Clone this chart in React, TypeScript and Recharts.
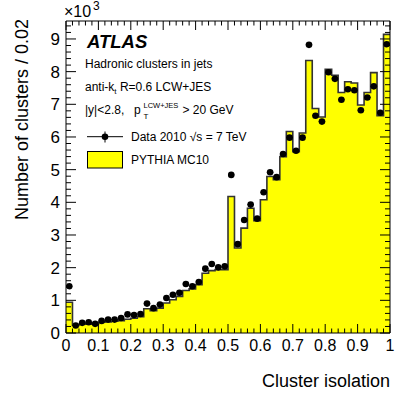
import {
    ComposedChart,
    Area,
    Scatter,
    ErrorBar,
    XAxis,
    YAxis,
} from 'recharts';

// bins of 0.02 in cluster isolation, values in units of 10^3 clusters
const binWidth = 0.02;
const dataValues = [
    1.43, 0.23, 0.31, 0.33, 0.28, 0.37, 0.41, 0.41, 0.46, 0.57,
    0.55, 0.58, 0.90, 0.76, 0.87, 1.07, 1.17, 1.23, 1.50, 1.43,
    1.56, 1.97, 2.11, 2.01, 2.04, 4.84, 2.72, 3.46, 3.93, 3.50,
    4.31, 4.92, 4.77, 5.48, 5.98, 5.58, 5.98, 8.82, 6.65, 6.47,
    7.98, 7.78, 7.14, 7.46, 7.43, 6.82, 7.21, 7.55, 6.74, 8.84,
];
const mcValues = [
    0.94, 0.23, 0.27, 0.28, 0.27, 0.33, 0.34, 0.36, 0.38, 0.42,
    0.45, 0.50, 0.74, 0.68, 0.76, 0.92, 1.02, 1.12, 1.30, 1.35,
    1.48, 1.83, 1.91, 1.94, 1.94, 4.18, 2.60, 3.21, 3.82, 3.44,
    4.08, 4.79, 4.69, 5.40, 6.17, 5.55, 6.12, 8.34, 6.87, 6.61,
    8.07, 7.89, 7.36, 7.69, 7.65, 6.98, 7.36, 7.97, 6.65, 9.14,
];

const xTicks = [0, 0.1, 0.2, 0.3, 0.4, 0.5, 0.6, 0.7, 0.8, 0.9, 1];
const yTicks = [0, 1, 2, 3, 4, 5, 6, 7, 8, 9];
// every tick (major + minor): 0.02 steps in x, 0.2 steps in y
const xAllTicks = Array.from({ length: 51 }, (_, i) => Math.round(i * 2) / 100);
const yAllTicks = Array.from({ length: 48 }, (_, i) => Math.round(i * 2) / 10);

// step histogram: one point at each bin edge (stepAfter), plus the closing edge
const mcSteps = [
    ...mcValues.map((v, i) => ({ x: i * binWidth, y: v })),
    { x: 1, y: mcValues[mcValues.length - 1] },
];
const dataPoints = dataValues.map((v, i) => ({ x: (i + 0.5) * binWidth, y: v, ex: binWidth / 2 }));

const FONT = '"Liberation Sans", Arial, Helvetica, sans-serif';
const W = 411;
const H = 397;
const Y_MAX = 9.55;

const isMajorX = (v: number) => xTicks.some((t) => Math.abs(t - v) < 1e-6);
const isMajorY = (v: number) => yTicks.some((t) => Math.abs(t - v) < 1e-6);

// ROOT style ticks: drawn inwards from the frame, labels only on major ticks
function BottomTick({ x, y, payload }: any) {
    const major = isMajorX(payload.value);
    return (
        <g>
            <line x1={x} x2={x} y1={y} y2={y - (major ? 9 : 4.5)} stroke="#000" />
            {major && (
                <text x={x} y={y + 18} textAnchor="middle" fontSize={16} fontFamily={FONT} fill="#000">
                    {String(payload.value)}
                </text>
            )}
        </g>
    );
}

function TopTick({ x, y, payload }: any) {
    const major = isMajorX(payload.value);
    return <line x1={x} x2={x} y1={y} y2={y + (major ? 9 : 4.5)} stroke="#000" />;
}

function LeftTick({ x, y, payload }: any) {
    const major = isMajorY(payload.value);
    return (
        <g>
            <line x1={x} x2={x + (major ? 10 : 5)} y1={y} y2={y} stroke="#000" />
            {major && (
                <text x={x - 6} y={y + 6} textAnchor="end" fontSize={17} fontFamily={FONT} fill="#000">
                    {String(payload.value)}
                </text>
            )}
        </g>
    );
}

function RightTick({ x, y, payload }: any) {
    const major = isMajorY(payload.value);
    return <line x1={x} x2={x - (major ? 10 : 5)} y1={y} y2={y} stroke="#000" />;
}

export default function App() {
    return (
        <div style={{ position: 'absolute', left: 0, top: 0, width: W, height: H, background: '#fff' }}>
            <ComposedChart
                width={W}
                height={H}
                data={mcSteps}
                margin={{ top: 20, right: 20, left: 36, bottom: 34 }}
            >
                <Area
                    type="stepAfter"
                    dataKey="y"
                    stroke="#333"
                    strokeWidth={1.6}
                    fill="#ffff00"
                    fillOpacity={1}
                    dot={false}
                    activeDot={false}
                    isAnimationActive={false}
                />
                <Scatter
                    data={dataPoints}
                    dataKey="y"
                    fill="#000"
                    isAnimationActive={false}
                    shape={(p: any) => <circle cx={p.cx} cy={p.cy} r={3.3} fill="#000" />}
                >
                    <ErrorBar dataKey="ex" direction="x" width={0} stroke="#000" strokeWidth={1} />
                </Scatter>

                <XAxis
                    xAxisId={0}
                    type="number"
                    dataKey="x"
                    domain={[0, 1]}
                    allowDataOverflow
                    ticks={xAllTicks}
                    interval={0}
                    height={30}
                    tickSize={0}
                    tickMargin={0}
                    tick={<BottomTick />}
                    tickLine={false}
                    axisLine={{ stroke: '#000' }}
                />
                <XAxis
                    xAxisId="top"
                    orientation="top"
                    type="number"
                    dataKey="x"
                    domain={[0, 1]}
                    allowDataOverflow
                    ticks={xAllTicks}
                    interval={0}
                    height={1}
                    tickSize={0}
                    tickMargin={0}
                    tick={<TopTick />}
                    tickLine={false}
                    axisLine={{ stroke: '#000' }}
                />
                <YAxis
                    yAxisId={0}
                    type="number"
                    dataKey="y"
                    domain={[0, Y_MAX]}
                    allowDataOverflow
                    ticks={yAllTicks}
                    interval={0}
                    width={30}
                    tickSize={0}
                    tickMargin={0}
                    tick={<LeftTick />}
                    tickLine={false}
                    axisLine={{ stroke: '#000' }}
                />
                <YAxis
                    yAxisId="right"
                    orientation="right"
                    type="number"
                    domain={[0, Y_MAX]}
                    allowDataOverflow
                    ticks={yAllTicks}
                    interval={0}
                    width={1}
                    tickSize={0}
                    tickMargin={0}
                    tick={<RightTick />}
                    tickLine={false}
                    axisLine={{ stroke: '#000' }}
                />
            </ComposedChart>

            <svg
                width={W}
                height={H}
                style={{ position: 'absolute', left: 0, top: 0, pointerEvents: 'none', fontFamily: FONT }}
            >
                <text x={64} y={17} fontSize={16}>×10</text>
                <text x={93} y={9.5} fontSize={12}>3</text>

                <text
                    transform="translate(28,19) rotate(-90)"
                    textAnchor="end"
                    fontSize={18}
                >
                    Number of clusters / 0.02
                </text>
                <text x={390} y={387} textAnchor="end" fontSize={18}>Cluster isolation</text>

                <text x={87} y={48.3} fontSize={18.5} fontWeight="bold" fontStyle="italic">ATLAS</text>
                <text x={85} y={67.7} fontSize={12}>Hadronic clusters in jets</text>
                <text x={85} y={90.7} fontSize={12}>
                    anti-k<tspan fontSize={8} dy={3}>t</tspan>
                    <tspan dy={-3}> R=0.6 LCW+JES</tspan>
                </text>
                <text x={85} y={114} fontSize={12}>|y|&lt;2.8,</text>
                <text x={134} y={114} fontSize={12}>p</text>
                <text x={143.5} y={108} fontSize={7.5}>LCW+JES</text>
                <text x={143.5} y={119} fontSize={8}>T</text>
                <text x={182.5} y={114} fontSize={12}>&gt; 20 GeV</text>

                <line x1={87} x2={123} y1={136.7} y2={136.7} stroke="#000" strokeWidth={1} />
                <line x1={105} x2={105} y1={131.5} y2={142.5} stroke="#000" strokeWidth={1} />
                <circle cx={105} cy={136.7} r={3.3} fill="#000" />
                <text x={131} y={140.5} fontSize={12}>Data 2010 √s = 7 TeV</text>

                <rect x={87.5} y={151.5} width={35} height={16.5} fill="#ffff00" stroke="#000" strokeWidth={1} />
                <text x={131} y={163.5} fontSize={12}>PYTHIA MC10</text>
            </svg>
        </div>
    );
}
